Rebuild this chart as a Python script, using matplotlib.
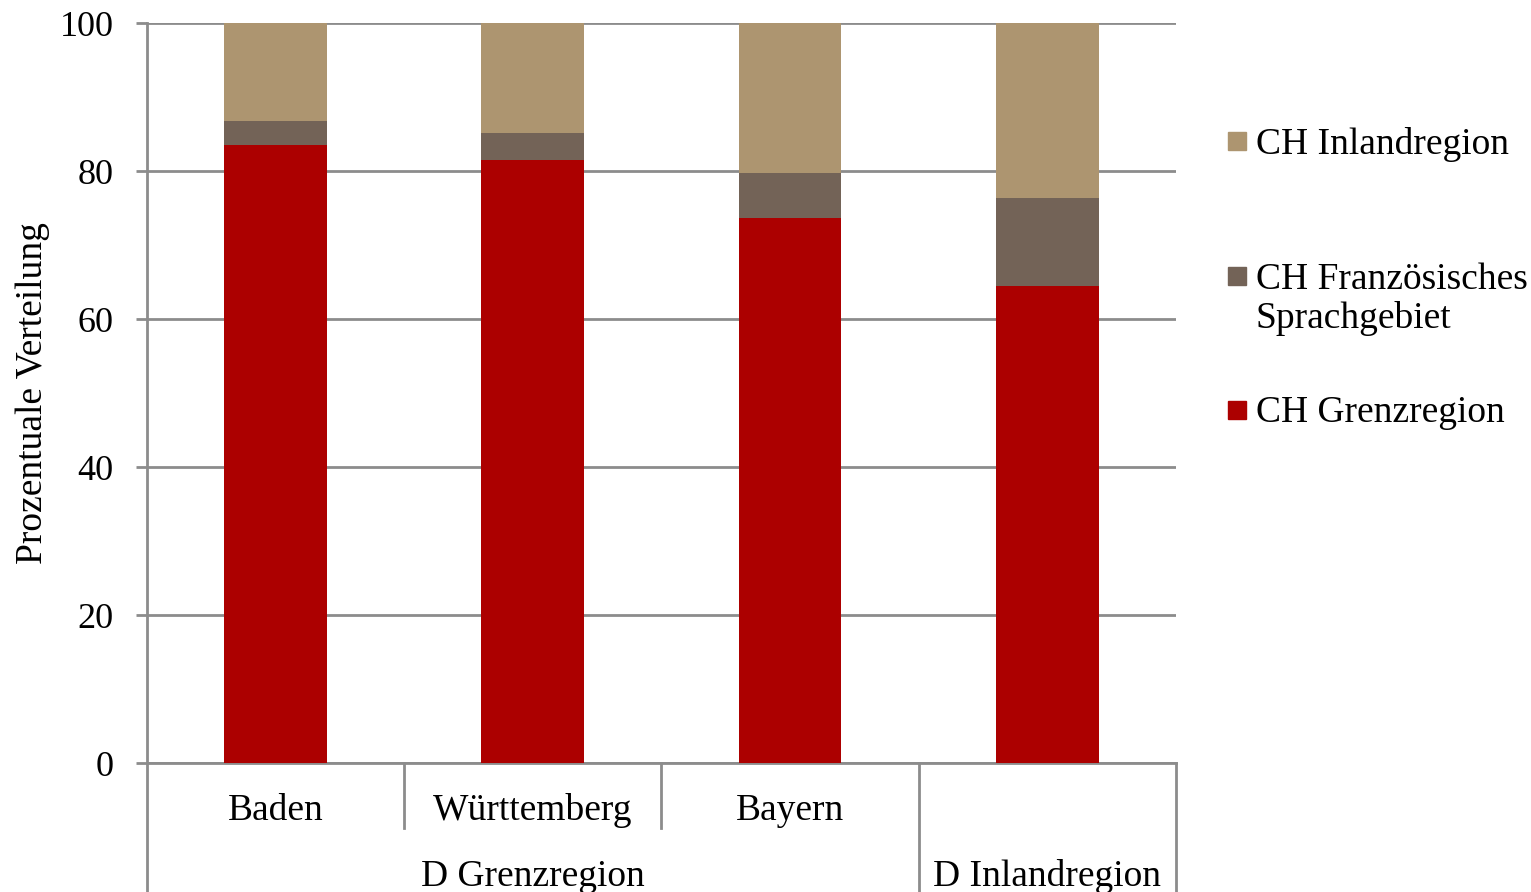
import numpy as np
import matplotlib.pyplot as plt
from matplotlib.patches import Rectangle

### data
states = ['Baden', 'Württemberg', 'Bayern', '']
groups = ['D Grenzregion', 'D Inlandregion']
group_span = [(0, 2), (3, 3)]
ch_grenz = [83.6, 81.5, 73.7, 64.5]
ch_franz = [3.2, 3.6, 6.1, 11.9]
ch_inland = [13.2, 14.9, 20.2, 23.6]
colors = ['#ac0000', '#736357', '#ad9570']
series_names = ['CH Grenzregion', 'CH Französisches\nSprachgebiet', 'CH Inlandregion']

plt.rcParams['font.family'] = ['Liberation Serif', 'DejaVu Serif']
fs = 27
grid_c = '#8c8c8c'

fig = plt.figure(figsize=(15.31, 8.92), dpi=100)
ax = fig.add_axes([0.096, 0.1443, 0.672, 0.8297])

x = np.arange(len(states))
w = 0.4
ax.bar(x, ch_grenz, w, color=colors[0], zorder=3)
ax.bar(x, ch_franz, w, bottom=ch_grenz, color=colors[1], zorder=3)
bot3 = np.array(ch_grenz) + np.array(ch_franz)
ax.bar(x, ch_inland, w, bottom=bot3, color=colors[2], zorder=3)

ax.set_xlim(-0.5, 3.5)
ax.set_ylim(0, 100)
ax.set_yticks(range(0, 101, 20))
ax.yaxis.grid(True, color=grid_c, lw=2, zorder=0)
ax.tick_params(axis='y', length=8, width=2, color=grid_c, labelsize=26, pad=16)
ax.set_ylabel('Prozentuale Verteilung', fontsize=fs, labelpad=7)
for s in ['top', 'right']:
    ax.spines[s].set_visible(False)
for s in ['left', 'bottom']:
    ax.spines[s].set_color(grid_c)
    ax.spines[s].set_linewidth(2)

# multi-level category axis
ax.set_xticks([])
tr = ax.get_xaxis_transform()
for i, name in enumerate(states):
    ax.text(i, -0.0635, name, transform=tr, ha='center', va='center', fontsize=fs)
for (a, b), g in zip(group_span, groups):
    ax.text((a + b) / 2, -0.1535, g, transform=tr, ha='center', va='center', fontsize=fs)
for xs in [0.5, 1.5]:
    ax.plot([xs, xs], [0, -0.088], transform=tr, color=grid_c, lw=2, clip_on=False)
for xs in [-0.5, 2.5, 3.5]:
    ax.plot([xs, xs], [0, -0.18], transform=tr, color=grid_c, lw=2, clip_on=False)

# legend (reversed order, drawn by hand to match spacing)
W, H = 1531, 892
leg_y = [410, 276, 141]  # pixel centre of first text line
for name, col, yc in zip(series_names, colors, leg_y):
    fig.patches.append(Rectangle((1228 / W, 1 - (yc + 9) / H), 18 / W, 18 / H,
                                 transform=fig.transFigure, color=col))
    fig.text(1256 / W, 1 - (yc - 14) / H, name, fontsize=fs, ha='left', va='top',
             linespacing=1.15)

fig.savefig('out.png', dpi=100)
